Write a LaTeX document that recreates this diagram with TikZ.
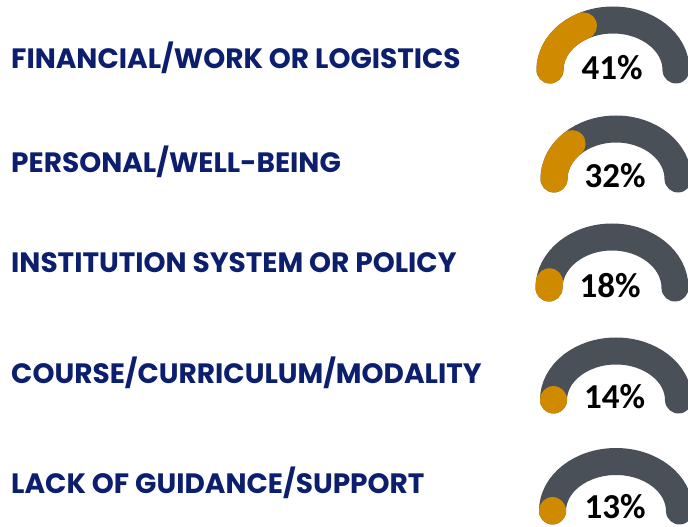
\documentclass[tikz,border=0pt]{standalone}
\usepackage{fontspec}
\newfontfamily\labelfont{Poppins}
\newfontfamily\pctfont{Carlito}
\definecolor{navy}{RGB}{12,31,110}
\definecolor{trackgray}{RGB}{74,80,88}
\definecolor{gold}{RGB}{208,138,0}
\newcommand\mygauge[5]{%
  \draw[track] (#1-#3,-#2) arc[start angle=180,end angle=0,x radius=#3,y radius=#4];
  \draw[fillarc] (#1-#3,-#2) arc[start angle=180,end angle=#5,x radius=#3,y radius=#4];
}
\begin{document}
\begin{tikzpicture}[x=1pt,y=1pt,
  lbl/.style={anchor=base west, inner sep=0pt, text=navy, font=\labelfont\bfseries\fontsize{28}{28}\selectfont},
  pct/.style={anchor=base, inner sep=0pt, text=black, font=\pctfont\bfseries\fontsize{35}{35}\selectfont},
  track/.style={draw=trackgray, line width=27pt, line cap=round},
  fillarc/.style={draw=gold, line width=27pt, line cap=round}]
\useasboundingbox (0,0) rectangle (688,-527);
\clip (0,0) rectangle (688,-527);
\fill[white] (0,0) rectangle (688,-527);

\node[lbl] (l1) at (11,-69) {FINANCIAL/WORK OR LOGISTICS};
\node[lbl] (l2) at (11,-172) {PERSONAL/WELL-BEING};
\node[lbl] (l3) at (11,-272) {INSTITUTION SYSTEM OR POLICY};
\node[lbl] (l4) at (11,-383) {COURSE/CURRICULUM/MODALITY};
\node[lbl] (l5) at (11,-493) {LACK OF GUIDANCE/SUPPORT};

\mygauge{613}{70}{63}{50}{118}
\mygauge{616}{179}{62}{50}{135}
\mygauge{612}{288}{63}{51}{173}
\mygauge{616}{400}{62.5}{49}{179.5}
\mygauge{616}{511}{63.5}{49.5}{179.5}

\node[pct] (p1) at (612,-80) {41\%};
\node[pct] (p2) at (615,-187) {32\%};
\node[pct] (p3) at (610,-297) {18\%};
\node[pct] (p4) at (614.5,-408) {14\%};
\node[pct] (p5) at (615,-518) {13\%};
\end{tikzpicture}
\end{document}
